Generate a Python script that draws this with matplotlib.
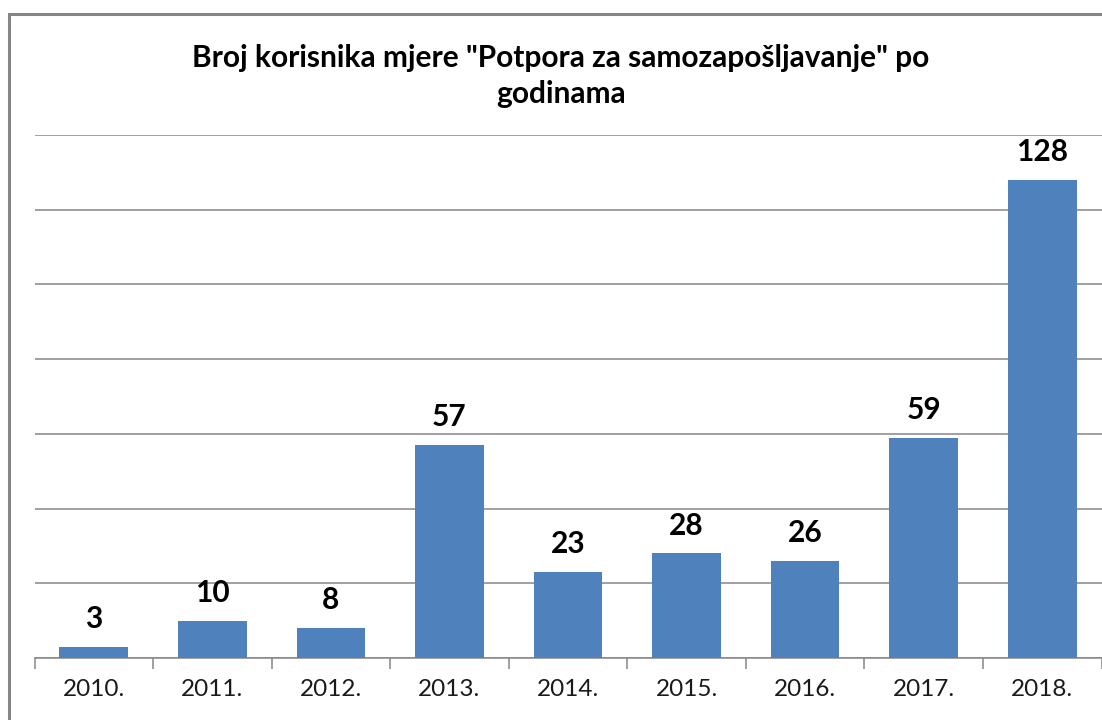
import matplotlib
matplotlib.use("Agg")
import matplotlib.pyplot as plt
from matplotlib.patches import Rectangle
import numpy as np

years = ["2010.", "2011.", "2012.", "2013.", "2014.", "2015.", "2016.", "2017.", "2018."]
values = [3, 10, 8, 57, 23, 28, 26, 59, 128]
title = 'Broj korisnika mjere "Potpora za samozapošljavanje" po\ngodinama'

plt.rcParams['font.family'] = ['Lato', 'DejaVu Sans']

fig = plt.figure(figsize=(11.02, 7.2), dpi=100)
fig.patch.set_facecolor('white')

# outer border (cropped on right/bottom)
fig.patches.append(Rectangle((9/1102, -0.05), 1.2, (720-14)/720 + 0.05,
                             transform=fig.transFigure, fill=False,
                             edgecolor='#868686', linewidth=2.2, zorder=0))

left = 34.5/1102
width = 1067/1102
bottom = (720-658)/720
height = (658-135)/720
ax = fig.add_axes([left, bottom, width, height])
ax.set_facecolor('none')

x = np.arange(len(years))
ax.bar(x, values, width=0.58, color='#4F81BD', zorder=3)

ax.set_ylim(0, 140)
ax.set_xlim(-0.5, len(years) - 0.5)
ax.set_yticks(np.arange(0, 141, 20))
ax.yaxis.grid(True, color='#868686', linewidth=1.1)
ax.set_axisbelow(True)
ax.tick_params(axis='y', left=False, labelleft=False)

for s in ['top', 'right', 'left']:
    ax.spines[s].set_visible(False)
ax.spines['bottom'].set_color('#868686')
ax.spines['bottom'].set_linewidth(1.1)

ax.set_xticks(x)
ax.set_xticklabels(years, fontsize=17.5, color='#1a1a1a')
ax.tick_params(axis='x', which='major', length=0, pad=15)
ax.set_xticks(np.arange(-0.5, len(years), 1), minor=True)
ax.tick_params(axis='x', which='minor', length=8, width=1.1, color='#868686')

for xi, v in zip(x, values):
    ax.annotate(str(v), (xi, v), xytext=(0, 10), textcoords='offset points',
                ha='center', va='bottom', fontsize=21.5, fontweight='bold', color='black')

fig.text(561/1102, (720-76)/720, title, ha='center', va='center', fontsize=21.5,
         fontweight='bold', linespacing=1.36, color='black')

fig.savefig('out.png', dpi=100)
